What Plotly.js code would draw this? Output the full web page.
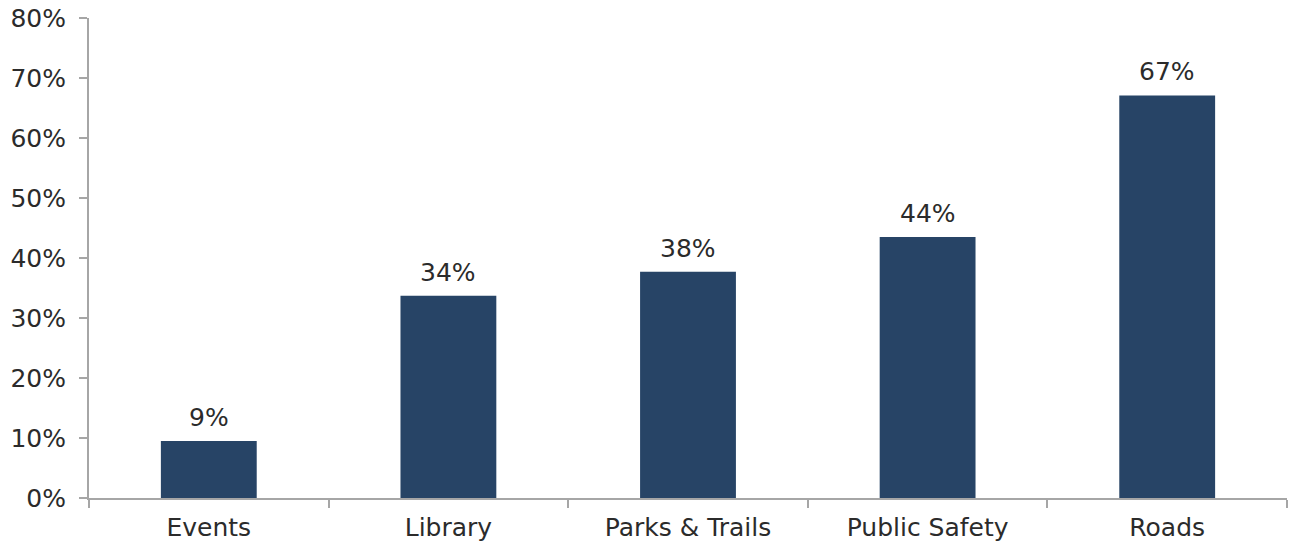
<!DOCTYPE html>
<html>
<head>
<meta charset="utf-8">
<script src="https://cdn.plot.ly/plotly-3.0.1.min.js"></script>
<style>html,body{margin:0;padding:0;background:#fff;}#chart{width:1293px;height:546px;}</style>
</head>
<body>
<div id="chart"></div>
<script>
const categories = ["Events", "Library", "Parks & Trails", "Public Safety", "Roads"];
const values = [0.095, 0.337, 0.377, 0.435, 0.671];
const labels = ["9%", "34%", "38%", "44%", "67%"];
const yTickVals = [0, 0.1, 0.2, 0.3, 0.4, 0.5, 0.6, 0.7, 0.8];
const yTickText = ["0%", "10%", "20%", "30%", "40%", "50%", "60%", "70%", "80%"];

const font = {family: "'DejaVu Sans', sans-serif", size: 25, color: "#2b2b2b"};

const annotations = categories.map((c, i) => ({
  x: c, y: values[i], text: labels[i],
  xref: "x", yref: "y",
  showarrow: false, yanchor: "bottom", yshift: 7,
  font: font
}));

Plotly.newPlot("chart", [{
  type: "bar",
  x: categories,
  y: values,
  marker: {color: "#274466"},
  width: 0.4,
  hoverinfo: "none"
}], {
  width: 1293, height: 546,
  margin: {l: 89, r: 6, t: 18, b: 48},
  paper_bgcolor: "#fff", plot_bgcolor: "#fff",
  font: font,
  showlegend: false,
  annotations: annotations,
  xaxis: {
    showline: true, linecolor: "#a6a6a6", linewidth: 2,
    ticks: "outside", ticklen: 8, tickcolor: "#a6a6a6", tickwidth: 2,
    tickson: "boundaries",
    ticklabelstandoff: 6,
    showgrid: false, zeroline: false,
    tickfont: font
  },
  yaxis: {
    range: [0, 0.8],
    tickvals: yTickVals, ticktext: yTickText,
    showline: true, linecolor: "#a6a6a6", linewidth: 2,
    ticks: "outside", ticklen: 8, tickcolor: "#a6a6a6", tickwidth: 2,
    ticklabelstandoff: 8,
    showgrid: false, zeroline: false,
    tickfont: font
  }
}, {displayModeBar: false, staticPlot: true});
</script>
</body>
</html>
